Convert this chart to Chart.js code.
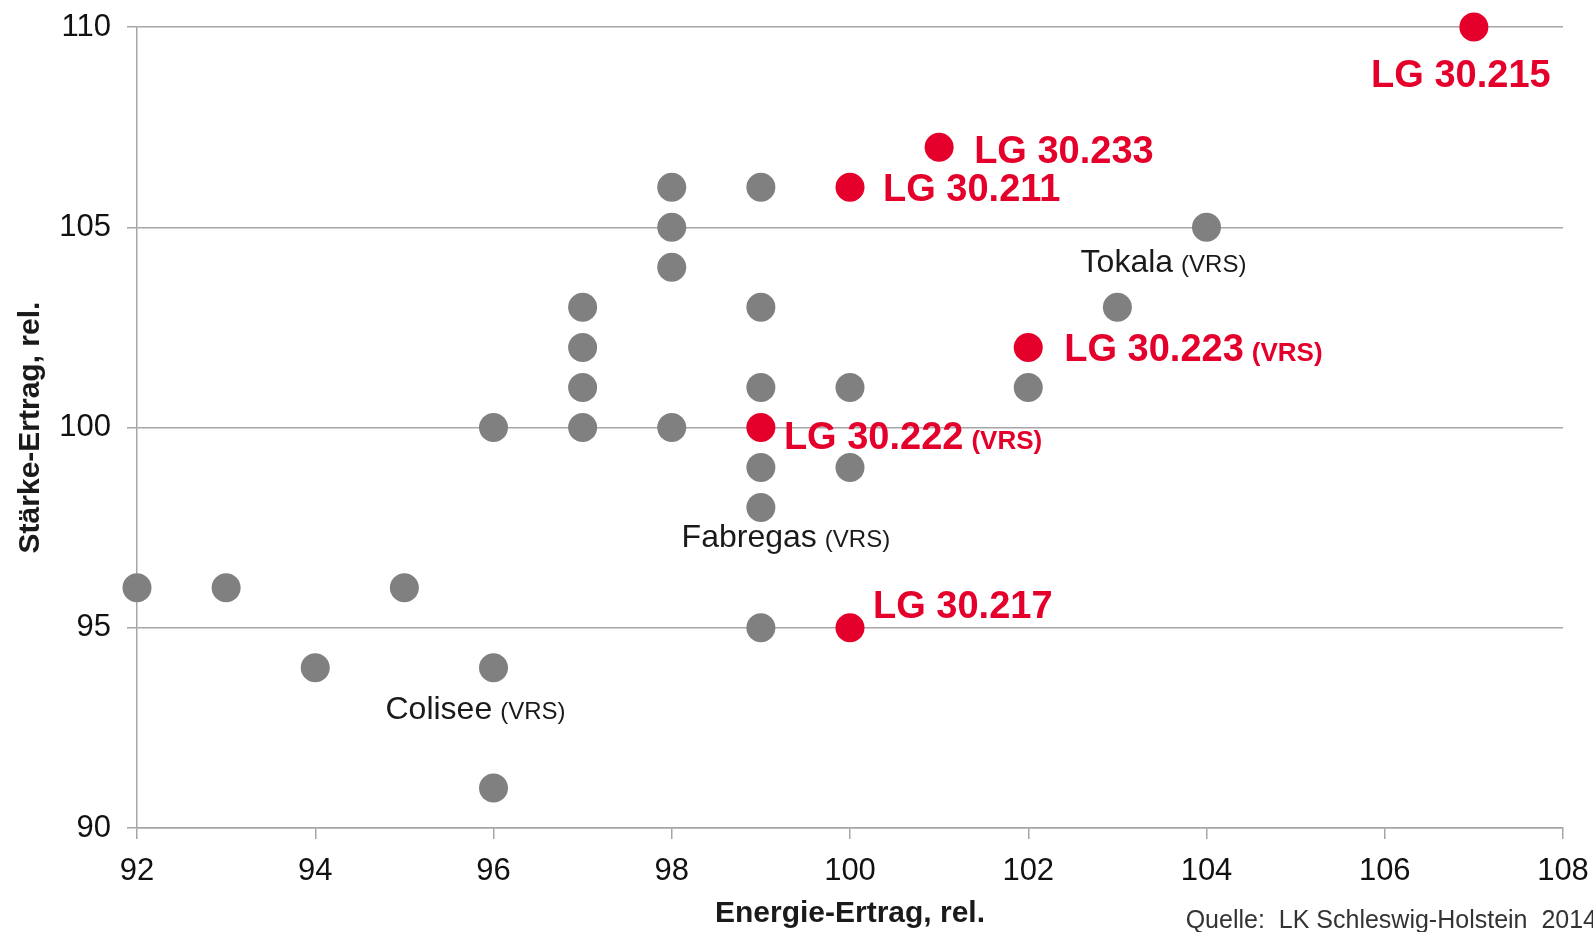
<!DOCTYPE html>
<html lang="de">
<head>
    <meta charset="UTF-8">
    <title>Stärke-Ertrag vs. Energie-Ertrag</title>
    <script src="https://cdn.jsdelivr.net/npm/chart.js"></script>
    <style>
        body {
            margin: 0;
            background: #fff;
        }
        #wrap {
            width: 1593px;
            height: 932px;
        }
    </style>
</head>
<body>
    <div id="wrap"><canvas id="chart" width="1593" height="932"></canvas></div>

    <script>
        // grey points: other varieties
        const grayX = [92, 93, 95, 94, 96, 96, 96, 97, 97, 97, 97, 98, 98, 98, 98, 99, 99, 99, 99, 99, 99, 100, 100, 102, 103, 104];
        const grayY = [96, 96, 96, 94, 94, 91, 100, 103, 102, 101, 100, 106, 105, 104, 100, 106, 103, 101, 99, 98, 95, 101, 99, 101, 103, 105];

        // red points: LG varieties
        const redX = [107, 101, 100, 102, 99, 100];
        const redY = [110, 107, 106, 102, 100, 95];
        const redNames = ['LG 30.215', 'LG 30.233', 'LG 30.211', 'LG 30.223', 'LG 30.222', 'LG 30.217'];
        const redSuffix = ['', '', '', '(VRS)', '(VRS)', ''];

        // labelled grey points
        const grayNames = ['Tokala', 'Fabregas', 'Colisee'];
        const grayNameX = [104, 99, 96];
        const grayNameY = [105, 98, 94];

        const xTicks = [92, 94, 96, 98, 100, 102, 104, 106, 108];
        const yTicks = [90, 95, 100, 105, 110];

        const RED = '#e4002b';
        const GREY = '#808080';
        const LINE = '#a6a6a6';
        const FONT = "'Liberation Sans', Arial, sans-serif";

        // label placement relative to the point (pixels)
        const redPos = [
            { dx: -13, dy: 46, align: 'center' },
            { dx: 35, dy: 2, align: 'left' },
            { dx: 33, dy: 0, align: 'left' },
            { dx: 36, dy: 0, align: 'left' },
            { dx: 23, dy: 8, align: 'left' },
            { dx: 23, dy: -23, align: 'left' }
        ];
        const grayPos = [
            { dx: -43, dy: 33, align: 'center' },
            { dx: 25, dy: 28, align: 'center' },
            { dx: -18, dy: 40, align: 'center' }
        ];

        function drawLabel(ctx, x, y, align, main, suffix, mainFont, sufFont, size, color) {
            ctx.font = mainFont;
            const w1 = ctx.measureText(main).width;
            let w2 = 0, gap = 0;
            if (suffix) {
                ctx.font = sufFont;
                w2 = ctx.measureText(suffix).width;
                gap = 8;
            }
            const total = w1 + gap + w2;
            let sx = x;
            if (align === 'center') sx = x - total / 2;
            if (align === 'right') sx = x - total;
            const base = y + size * 0.36;
            ctx.fillStyle = color;
            ctx.textAlign = 'left';
            ctx.textBaseline = 'alphabetic';
            ctx.font = mainFont;
            ctx.fillText(main, sx, base);
            if (suffix) {
                ctx.font = sufFont;
                ctx.fillText(suffix, sx + w1 + gap, base);
            }
        }

        const labelPlugin = {
            id: 'labels',
            afterDatasetsDraw(chart) {
                const ctx = chart.ctx, xs = chart.scales.x, ys = chart.scales.y;
                ctx.save();
                redNames.forEach((n, i) => {
                    const p = redPos[i];
                    drawLabel(ctx, xs.getPixelForValue(redX[i]) + p.dx, ys.getPixelForValue(redY[i]) + p.dy, p.align,
                        n, redSuffix[i], 'bold 38px ' + FONT, 'bold 26px ' + FONT, 38, RED);
                });
                grayNames.forEach((n, i) => {
                    const p = grayPos[i];
                    drawLabel(ctx, xs.getPixelForValue(grayNameX[i]) + p.dx, ys.getPixelForValue(grayNameY[i]) + p.dy, p.align,
                        n, '(VRS)', '32px ' + FONT, '24px ' + FONT, 32, '#1a1a1a');
                });
                // source note
                ctx.font = '25px ' + FONT;
                ctx.fillStyle = '#333';
                ctx.textAlign = 'right';
                ctx.textBaseline = 'middle';
                ctx.fillText('Quelle:  LK Schleswig-Holstein  2014', 1597, 921);
                ctx.restore();
            }
        };

        new Chart(document.getElementById('chart').getContext('2d'), {
            type: 'scatter',
            data: {
                datasets: [
                    {
                        data: grayX.map((x, i) => ({ x: x, y: grayY[i] })),
                        backgroundColor: GREY, borderWidth: 0, pointRadius: 14.5, pointHoverRadius: 14.5
                    },
                    {
                        data: redX.map((x, i) => ({ x: x, y: redY[i] })),
                        backgroundColor: RED, borderWidth: 0, pointRadius: 14.5, pointHoverRadius: 14.5
                    }
                ]
            },
            options: {
                responsive: false,
                animation: false,
                devicePixelRatio: 1,
                clip: false,
                layout: { padding: { top: 27, right: 30, left: 0, bottom: 0 } },
                plugins: { legend: { display: false }, tooltip: { enabled: false } },
                scales: {
                    x: {
                        type: 'linear', min: 92, max: 108,
                        afterBuildTicks: s => { s.ticks = xTicks.map(v => ({ value: v })); },
                        afterFit: s => { s.height = 104; s.paddingLeft = 0; s.paddingRight = 0; },
                        grid: { drawOnChartArea: false, color: LINE, lineWidth: 1.5, tickLength: 11 },
                        border: { color: LINE, width: 1.5 },
                        ticks: { color: '#111', padding: 14, font: { family: FONT, size: 31 } },
                        title: {
                            display: true, text: 'Energie-Ertrag, rel.', color: '#1a1a1a',
                            font: { family: FONT, size: 30, weight: 'bold' }, padding: { top: 0, bottom: 0 }
                        }
                    },
                    y: {
                        type: 'linear', min: 90, max: 110,
                        afterBuildTicks: s => { s.ticks = yTicks.map(v => ({ value: v })); },
                        afterFit: s => { s.width = 137; s.paddingTop = 0; s.paddingBottom = 0; },
                        grid: { color: LINE, lineWidth: 1.5, tickLength: 10 },
                        border: { color: LINE, width: 1.5 },
                        ticks: { color: '#111', padding: 16, font: { family: FONT, size: 31 } },
                        title: {
                            display: true, text: 'Stärke-Ertrag, rel.', color: '#1a1a1a',
                            font: { family: FONT, size: 30, weight: 'bold' }, padding: { top: 13, bottom: 0 }
                        }
                    }
                }
            },
            plugins: [labelPlugin]
        });
    </script>
</body>
</html>
